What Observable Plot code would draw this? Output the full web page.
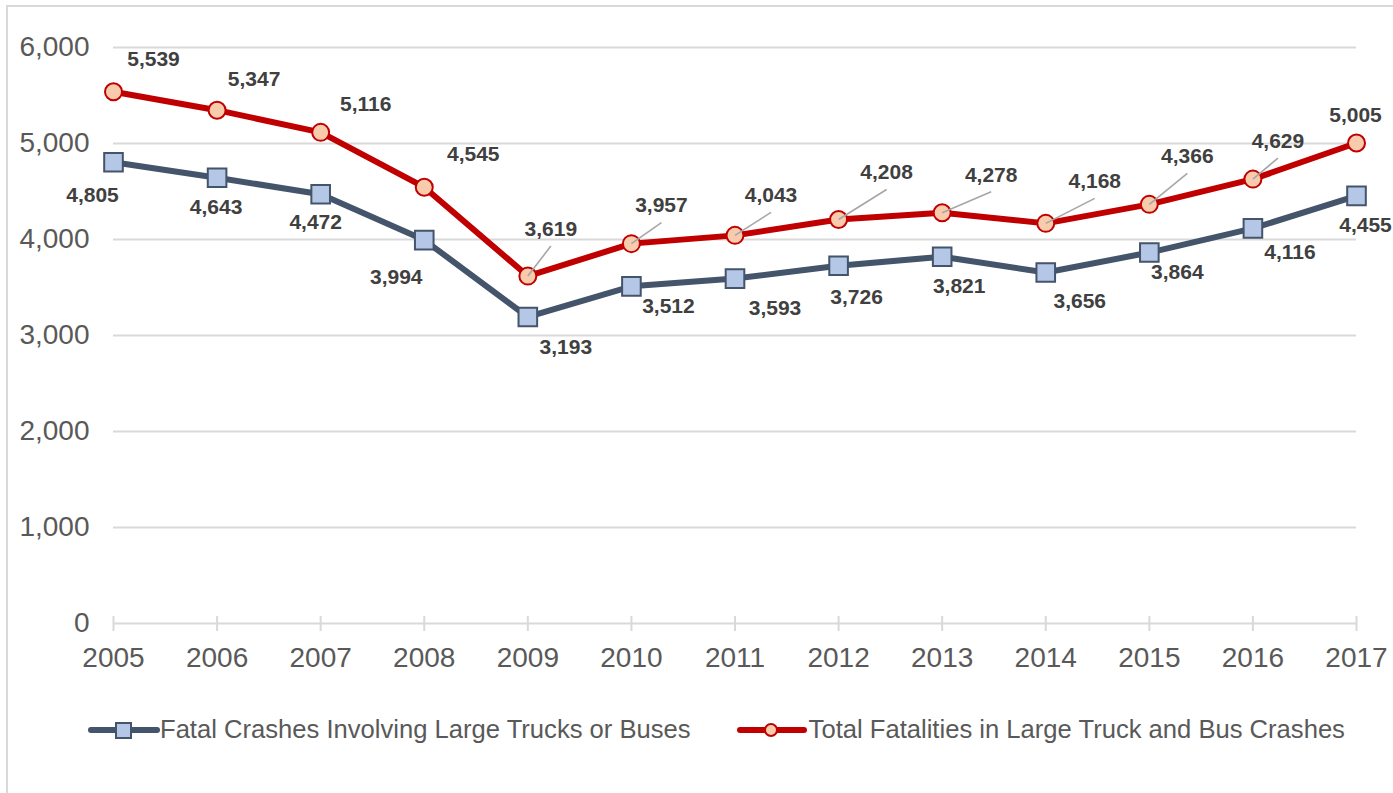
<!DOCTYPE html>
<html>
<head>
<meta charset="utf-8">
<script src="https://cdn.jsdelivr.net/npm/d3@7"></script>
<script src="https://cdn.jsdelivr.net/npm/@observablehq/plot@0.6"></script>
<style>
  body { margin: 0; background: #fff; overflow: hidden; width: 1393px; height: 793px; position: relative; font-family: "Liberation Sans", Arial, sans-serif; }
  #frame { position: absolute; left: 6px; top: 5px; width: 1500px; height: 900px; border: 2px solid #d9d9d9; box-sizing: border-box; }
  #chart { position: absolute; left: 0; top: 0; }
  #legend { position: absolute; left: 88px; top: 715px; display: flex; align-items: center; font-size: 25.6px; color: #595959; white-space: nowrap; }
  #legend .item { display: flex; align-items: center; }
  #legend svg { display: block; }
</style>
</head>
<body>
<div id="frame"></div>
<div id="chart"></div>
<div id="legend"></div>
<script>
// ---- data ----
const years = [2005, 2006, 2007, 2008, 2009, 2010, 2011, 2012, 2013, 2014, 2015, 2016, 2017];
const fatalCrashes = [4805, 4643, 4472, 3994, 3193, 3512, 3593, 3726, 3821, 3656, 3864, 4116, 4455];
const totalFatalities = [5539, 5347, 5116, 4545, 3619, 3957, 4043, 4208, 4278, 4168, 4366, 4629, 5005];
const seriesNames = ["Fatal Crashes Involving Large Trucks or Buses", "Total Fatalities in Large Truck and Bus Crashes"];
const yTicks = [0, 1000, 2000, 3000, 4000, 5000, 6000];

// ---- layout (label offsets in px, leader flags) ----
const redLabelOffsets = [[40,-32],[37,-31],[45,-28],[49,-33],[23,-47],[30,-38],[36,-40],[48,-47],[49,-38],[49,-42],[38,-48],[25,-38],[-1,-28]];
const blueLabelOffsets = [[-21,33],[-1,29],[-5,28],[-28,37],[38,30],[37,20],[40,30],[18,31],[17,30],[34,29],[28,20],[37,24],[9,29]];
const redLeader = [false,false,false,false,true,true,true,true,true,true,true,true,false];

const RED = "#C00000", RED_FILL = "#F8CBAD";
const BLUE = "#44546A", BLUE_FILL = "#B4C7E7";
const fmt = d3.format(",");
const idx = years.map((_, i) => i);

const marks = [
  Plot.ruleY(yTicks, {stroke: "#d9d9d9", strokeWidth: 2}),
  Plot.ruleX(years, {x: d => d, y1: 0, y2: 0, insetTop: 8, insetBottom: 7, stroke: "#d9d9d9", strokeWidth: 2}),
  Plot.axisY({ticks: yTicks, tickSize: 0, tickPadding: 24, tickFormat: fmt, fontSize: 28, fill: "#595959", label: null}),
  Plot.axisX({ticks: years, tickSize: 0, tickPadding: 24, tickFormat: d => String(d), fontSize: 28, fill: "#595959", label: null}),
  Plot.line(idx, {x: i => years[i], y: i => fatalCrashes[i], stroke: BLUE, strokeWidth: 6, strokeLinejoin: "round", strokeLinecap: "round"}),
  Plot.dot(idx, {x: i => years[i], y: i => fatalCrashes[i], symbol: "square", r: 10.5, fill: BLUE_FILL, stroke: BLUE, strokeWidth: 2}),
  Plot.line(idx, {x: i => years[i], y: i => totalFatalities[i], stroke: RED, strokeWidth: 6, strokeLinejoin: "round", strokeLinecap: "round"}),
  Plot.dot(idx, {x: i => years[i], y: i => totalFatalities[i], symbol: "circle", r: 8.5, fill: RED_FILL, stroke: RED, strokeWidth: 2})
];

// leader lines
idx.forEach(i => {
  if (!redLeader[i]) return;
  const ex = redLabelOffsets[i][0], ey = redLabelOffsets[i][1] + 17;
  const len = Math.hypot(ex, ey);
  const rot = Math.atan2(ex, -ey) * 180 / Math.PI;
  marks.push(Plot.vector([i], {x: j => years[j], y: j => totalFatalities[j], length: len, rotate: rot, anchor: "start", r: 0, stroke: "#a6a6a6", strokeWidth: 1.6, strokeLinecap: "butt"}));
});

// data labels
idx.forEach(i => {
  marks.push(Plot.text([i], {x: j => years[j], y: j => totalFatalities[j], text: j => fmt(totalFatalities[j]),
    dx: redLabelOffsets[i][0], dy: redLabelOffsets[i][1], fontSize: 21, fontWeight: "bold", fill: "#404040", textAnchor: "middle", lineAnchor: "middle"}));
  marks.push(Plot.text([i], {x: j => years[j], y: j => fatalCrashes[j], text: j => fmt(fatalCrashes[j]),
    dx: blueLabelOffsets[i][0], dy: blueLabelOffsets[i][1], fontSize: 21, fontWeight: "bold", fill: "#404040", textAnchor: "middle", lineAnchor: "middle"}));
});

const chart = Plot.plot({
  width: 1393,
  height: 690,
  marginLeft: 113,
  marginRight: 37,
  marginTop: 47,
  marginBottom: 67,
  x: {domain: [2005, 2017]},
  y: {domain: [0, 6000]},
  style: {fontFamily: "'Liberation Sans', Arial, sans-serif", background: "transparent"},
  marks
});
document.getElementById("chart").appendChild(chart);

// legend
const legend = document.getElementById("legend");
legend.innerHTML = `
  <div class="item">
    <svg width="72" height="20"><line x1="3" y1="10" x2="69" y2="10" stroke="${BLUE}" stroke-width="6" stroke-linecap="round"/>
      <rect x="28" y="3" width="15" height="15" fill="${BLUE_FILL}" stroke="${BLUE}" stroke-width="2"/></svg>
    <span>${seriesNames[0]}</span>
  </div>
  <div class="item" style="margin-left:46px">
    <svg width="72" height="20"><line x1="3" y1="10" x2="67" y2="10" stroke="${RED}" stroke-width="6" stroke-linecap="round"/>
      <circle cx="34" cy="10" r="6" fill="${RED_FILL}" stroke="${RED}" stroke-width="2"/></svg>
    <span>${seriesNames[1]}</span>
  </div>`;
</script>
</body>
</html>
